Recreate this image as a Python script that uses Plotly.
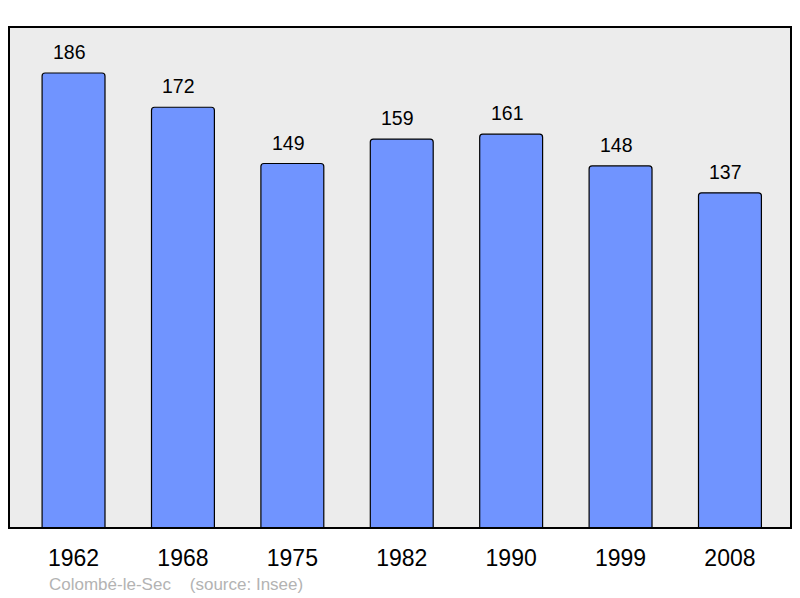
import plotly.graph_objects as go

years = ["1962", "1968", "1975", "1982", "1990", "1999", "2008"]
population = [186, 172, 149, 159, 161, 148, 137]

fig = go.Figure()
fig.add_trace(go.Bar(
    x=years, y=population,
    width=0.575,
    marker=dict(color="#7094ff", line=dict(color="black", width=1.2), cornerradius=3),
    hoverinfo="skip",
))

# value labels above bars (x given as category index, numeric-looking names confuse plotly)
for i, val in enumerate(population):
    fig.add_annotation(x=i, y=val, text=str(val), showarrow=False,
                       yanchor="middle", yshift=21, xshift=-4,
                       font=dict(family="Liberation Sans", size=19.5, color="black"))

fig.add_annotation(xref="paper", yref="paper", x=0.0486, y=-0.112,
                   xanchor="left", yanchor="middle", showarrow=False,
                   text="Colombé-le-Sec &nbsp;&nbsp; (source: Insee)",
                   font=dict(family="Liberation Sans", size=17, color="#b3b3b3"))

fig.add_shape(type="rect", xref="paper", yref="paper", x0=0, y0=0, x1=1, y1=1,
              line=dict(color="black", width=2), layer="above")

# page has an 8px body margin, so the figure is shrunk and margins shifted
fig.update_layout(
    width=784, height=590,
    margin=dict(l=1, r=1, t=19, b=70),
    paper_bgcolor="white", plot_bgcolor="#ececec",
    showlegend=False,
    font=dict(family="Liberation Sans"),
    xaxis=dict(type="category", range=[-0.59, 6.558], showgrid=False, zeroline=False,
               ticks="outside", ticklen=9, tickcolor="rgba(0,0,0,0)",
               tickfont=dict(size=23, color="black"), fixedrange=True),
    yaxis=dict(range=[0, 204.8], showgrid=False, zeroline=False,
               showticklabels=False, fixedrange=True),
)

fig.write_html("out.html")
